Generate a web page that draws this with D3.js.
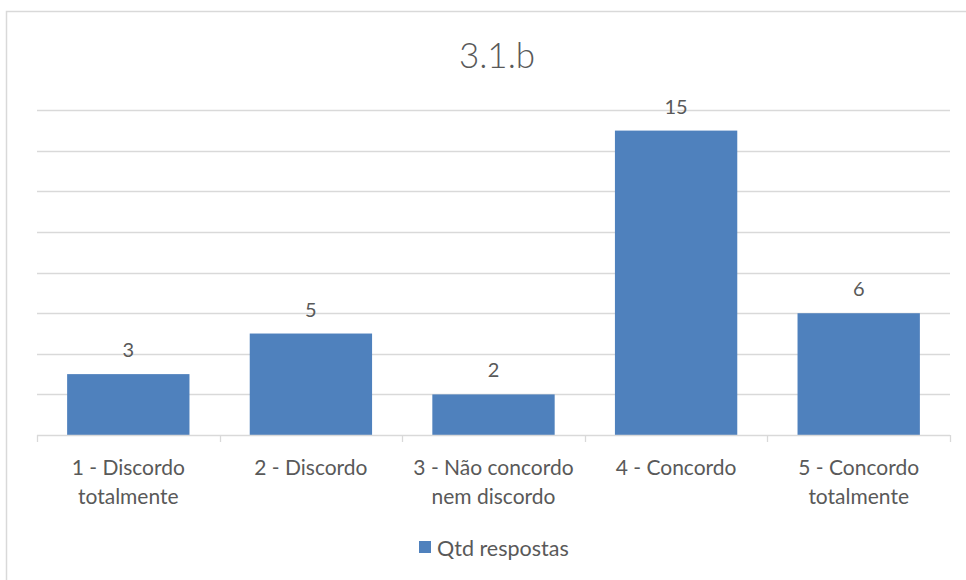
<!DOCTYPE html>
<html>
<head>
<meta charset="utf-8">
<script src="https://cdn.jsdelivr.net/npm/d3@7"></script>
<style>
  html, body { margin: 0; padding: 0; background: #fff; }
  svg { display: block; }
  text { font-family: Lato, "Open Sans", sans-serif; fill: #595959; }
</style>
</head>
<body>
<svg id="chart" width="966" height="580"></svg>
<script>
// Survey answers for question 3.1.b
const categories = [
  ["1 - Discordo", "totalmente"],
  ["2 - Discordo"],
  ["3 - Não concordo", "nem discordo"],
  ["4 - Concordo"],
  ["5 - Concordo", "totalmente"]
];
const values = [3, 5, 2, 15, 6];
const seriesName = "Qtd respostas";
const title = "3.1.b";
const gridTicks = [0, 2, 4, 6, 8, 10, 12, 14, 16];

const svg = d3.select("#chart");
const plotLeft = 37, plotRight = 950, plotTop = 110.3, plotBottom = 435;
const barColor = "#4f81bd";

// Outer chart border
svg.append("rect")
  .attr("x", 6.5).attr("y", 11.5)
  .attr("width", 1000).attr("height", 600)
  .attr("fill", "#fff").attr("stroke", "#d9d9d9").attr("stroke-width", 1.5);

const x = d3.scaleBand()
  .domain(d3.range(categories.length))
  .range([plotLeft, plotRight])
  .paddingInner(0.33)
  .paddingOuter(0.165);

const y = d3.scaleLinear().domain([0, 16]).range([plotBottom, plotTop]);

// Horizontal gridlines
svg.append("g")
  .selectAll("line")
  .data(gridTicks.filter(d => d > 0))
  .join("line")
  .attr("x1", plotLeft).attr("x2", plotRight)
  .attr("y1", d => Math.round(y(d)) + 0.5)
  .attr("y2", d => Math.round(y(d)) + 0.5)
  .attr("stroke", "#d9d9d9").attr("stroke-width", 1.3);

// Bars
svg.append("g")
  .selectAll("rect")
  .data(values)
  .join("rect")
  .attr("x", (d, i) => x(i))
  .attr("width", x.bandwidth())
  .attr("y", d => y(d))
  .attr("height", d => y(0) - y(d))
  .attr("fill", barColor);

// Category axis with boundary tick marks
const axisG = svg.append("g");
axisG.append("line")
  .attr("x1", plotLeft).attr("x2", plotRight)
  .attr("y1", plotBottom + 0.5).attr("y2", plotBottom + 0.5)
  .attr("stroke", "#d9d9d9").attr("stroke-width", 1.3);
const step = x.step();
axisG.selectAll("line.tick")
  .data(d3.range(categories.length + 1))
  .join("line")
  .attr("class", "tick")
  .attr("x1", i => Math.round(plotLeft + i * step) + 0.5)
  .attr("x2", i => Math.round(plotLeft + i * step) + 0.5)
  .attr("y1", plotBottom).attr("y2", plotBottom + 7)
  .attr("stroke", "#d9d9d9").attr("stroke-width", 1.3);

// Category labels
const labels = svg.append("g")
  .selectAll("text")
  .data(categories)
  .join("text")
  .attr("text-anchor", "middle")
  .attr("font-size", 21)
  .attr("x", (d, i) => x(i) + x.bandwidth() / 2)
  .attr("y", 475);
labels.selectAll("tspan")
  .data(d => d)
  .join("tspan")
  .attr("x", function() { return d3.select(this.parentNode).attr("x"); })
  .attr("dy", (d, j) => j === 0 ? 0 : 29)
  .text(d => d);

// Value labels above bars
svg.append("g")
  .selectAll("text")
  .data(values)
  .join("text")
  .attr("text-anchor", "middle")
  .attr("font-size", 20)
  .attr("x", (d, i) => x(i) + x.bandwidth() / 2)
  .attr("y", d => y(d) - 17)
  .text(d => d);

// Title
svg.append("text")
  .attr("x", 497).attr("y", 68)
  .attr("text-anchor", "middle")
  .attr("font-size", 35)
  .attr("font-weight", 300)
  .text(title);

// Legend
const legend = svg.append("g");
legend.append("rect")
  .attr("x", 419).attr("y", 541)
  .attr("width", 12).attr("height", 12)
  .attr("fill", barColor);
legend.append("text")
  .attr("x", 437).attr("y", 556)
  .attr("font-size", 21.5)
  .text(seriesName);
</script>
</body>
</html>
